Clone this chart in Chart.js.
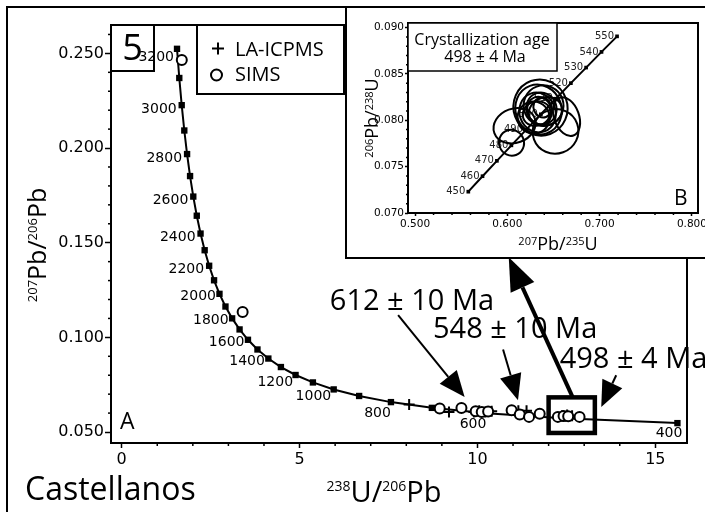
<!DOCTYPE html>
<html>
<head>
<meta charset="utf-8">
<script src="https://cdn.jsdelivr.net/npm/chart.js@4.4.0/dist/chart.umd.min.js"></script>
<style>
  body { margin: 0; background: #fff; }
  #wrap { position: relative; width: 705px; height: 512px; overflow: hidden; }
  #main { position: absolute; left: 0; top: 0; }
  #inset { position: absolute; left: 345px; top: 6px; width: 380px; height: 249px; border: 2px solid #000; background: #fff; }
  #insetChart { position: absolute; left: 0; top: 0; }
</style>
</head>
<body>
<div id="wrap">
  <canvas id="main" width="705" height="512"></canvas>
  <div id="inset"><canvas id="insetChart" width="358" height="249"></canvas></div>
</div>
<script>
// Tera-Wasserburg concordia, ages in Ma
const concAges = [3200, 3100, 3000, 2900, 2800, 2700, 2600, 2500, 2400, 2300, 2200, 2100, 2000, 1900,
  1800, 1700, 1600, 1500, 1400, 1300, 1200, 1100, 1000, 900, 800, 700, 600, 500, 400];
const concX = [1.5557, 1.6194, 1.6874, 1.7603, 1.8384, 1.9224, 2.0129, 2.1108, 2.2170, 2.3325, 2.4586,
  2.5968, 2.7490, 2.9174, 3.1046, 3.3140, 3.5497, 3.8170, 4.1227, 4.4756, 4.8875, 5.3746, 5.9593,
  6.6743, 7.5684, 8.7182, 10.2518, 12.3993, 15.6210];
const concY = [0.25242, 0.23701, 0.22266, 0.20928, 0.19682, 0.18520, 0.17437, 0.16426, 0.15483, 0.14603,
  0.13782, 0.13015, 0.12299, 0.11629, 0.11004, 0.10419, 0.09872, 0.09360, 0.08881, 0.08432, 0.08012,
  0.07619, 0.07250, 0.06904, 0.06580, 0.06276, 0.05990, 0.05722, 0.05470];

// zircon analyses
const laX = [8.08, 9.20, 9.90, 10.05, 10.22, 10.40, 11.15, 11.38, 12.38, 12.52, 12.66];
const laY = [0.0645, 0.0606, 0.0606, 0.0612, 0.0606, 0.0610, 0.0612, 0.0612, 0.0586, 0.0590, 0.0586];
const simsX = [1.69, 3.40, 8.94, 9.55, 9.95, 10.12, 10.30, 10.96, 11.19, 11.45, 11.75, 12.26, 12.42, 12.55, 12.87];
const simsY = [0.2465, 0.1134, 0.0624, 0.0627, 0.0610, 0.0606, 0.0608, 0.0615, 0.0592, 0.0580, 0.0596,
  0.0580, 0.0585, 0.0583, 0.0580];

const xMajor = [0, 5, 10, 15];
const yMajor = [0.05, 0.10, 0.15, 0.20, 0.25];

// Wetherill concordia for the inset
const insetAges = [450, 460, 470, 480, 490, 500, 510, 520, 530, 540, 550];
const insetX = [0.55766, 0.57307, 0.58864, 0.60436, 0.62024, 0.63628, 0.65247, 0.66883, 0.68535, 0.70203, 0.71887];
const insetY = [0.07230, 0.07397, 0.07563, 0.07730, 0.07897, 0.08065, 0.08233, 0.08401, 0.08569, 0.08738, 0.08906];

// 2-sigma error ellipses: centre and semi-axes
const ellX = [0.6078, 0.6045, 0.6522, 0.6641, 0.6359, 0.6338, 0.6392, 0.6327, 0.6370, 0.6348, 0.6381, 0.6316, 0.6413, 0.6284];
const ellY = [0.07942, 0.07758, 0.07880, 0.08040, 0.08138, 0.08116, 0.08160, 0.08084, 0.08127, 0.08105, 0.08138, 0.08073, 0.08095, 0.08029];
const ellRx = [0.0233, 0.0135, 0.0249, 0.0135, 0.0292, 0.0249, 0.0216, 0.0195, 0.0162, 0.0130, 0.0097, 0.0152, 0.0184, 0.0173];
const ellRy = [0.00185, 0.00141, 0.00239, 0.00217, 0.00304, 0.00272, 0.00217, 0.00217, 0.00174, 0.00152, 0.00109, 0.00130, 0.00152, 0.00174];

const insetXMajor = [0.5, 0.6, 0.7, 0.8];
const insetYMajor = [0.070, 0.075, 0.080, 0.085, 0.090];

// age annotations with their arrows (data coordinates)
const notes = [
  {text: '612 \u00b1 10 Ma', at: [5.85, 0.1147], from: [7.77, 0.1117], to: [9.64, 0.0685]},
  {text: '548 \u00b1 10 Ma', at: [8.75, 0.0999], from: [10.72, 0.0936], to: [11.14, 0.0668]},
  {text: '498 \u00b1 4 Ma', at: [12.31, 0.0840], from: [13.90, 0.0800], to: [13.48, 0.0632]}
];
const zoomBox = {x: [12.0, 13.3], y: [0.0495, 0.0683], arrowTo: [10.88, 0.1423]};

const pts = (xs, ys) => xs.map((x, i) => ({x, y: ys[i]}));
const isMajor = (v, list) => list.some(m => Math.abs(m - v) < 1e-6);
const SANS = '"Open Sans", "DejaVu Sans", sans-serif';

function line(ctx, x1, y1, x2, y2) {
  ctx.beginPath(); ctx.moveTo(x1, y1); ctx.lineTo(x2, y2); ctx.stroke();
}

function arrow(ctx, x1, y1, x2, y2, lw, hl, hw) {
  const a = Math.atan2(y2 - y1, x2 - x1);
  const bx = x2 - hl * Math.cos(a), by = y2 - hl * Math.sin(a);
  ctx.lineWidth = lw;
  line(ctx, x1, y1, bx, by);
  ctx.beginPath();
  ctx.moveTo(x2, y2);
  ctx.lineTo(bx + hw / 2 * Math.sin(a), by - hw / 2 * Math.cos(a));
  ctx.lineTo(bx - hw / 2 * Math.sin(a), by + hw / 2 * Math.cos(a));
  ctx.closePath();
  ctx.fill();
}

// text with superscript isotope masses, parts = [[text, isSup], ...]
function supText(ctx, parts, x, y, big, small) {
  const fb = big + 'px ' + SANS, fs = small + 'px ' + SANS;
  let w = 0;
  parts.forEach(([t, s]) => { ctx.font = s ? fs : fb; w += ctx.measureText(t).width; });
  let cx = x - w / 2;
  const raise = 0.714 * (big - small);
  ctx.textAlign = 'left';
  ctx.textBaseline = 'alphabetic';
  parts.forEach(([t, s]) => {
    ctx.font = s ? fs : fb;
    ctx.fillText(t, cx, s ? y - raise : y);
    cx += ctx.measureText(t).width;
  });
}

function minorTicks(ctx, chart, xList, yList, len) {
  const {chartArea: a, scales: {x, y}} = chart;
  ctx.lineWidth = 1.5;
  x.ticks.forEach(t => {
    if (isMajor(t.value, xList)) return;
    const px = x.getPixelForValue(t.value);
    line(ctx, px, a.bottom, px, a.bottom + len);
  });
  y.ticks.forEach(t => {
    if (isMajor(t.value, yList)) return;
    const py = y.getPixelForValue(t.value);
    line(ctx, a.left - len, py, a.left, py);
  });
}

function ageShift(age) {
  if (age >= 3200) return [-3, 9];
  if (age >= 2200) return [-5, 4];
  if (age >= 1400) return [-3.5, 2.5];
  if (age >= 1000) return [-2.5, 7];
  if (age > 400) return [0, 11.5];
  return [5, 10];
}

const mainDecor = {
  id: 'mainDecor',
  beforeDatasetsDraw(chart) {
    const {ctx, scales: {x, y}} = chart;
    ctx.save();
    ctx.font = '14px "DejaVu Sans"';
    ctx.fillStyle = '#000';
    ctx.textAlign = 'right';
    ctx.textBaseline = 'middle';
    concAges.forEach((age, i) => {
      if (age % 200) return;
      const [dx, dy] = ageShift(age);
      ctx.fillText(String(age), x.getPixelForValue(concX[i]) + dx, y.getPixelForValue(concY[i]) + dy);
    });
    ctx.restore();
  },
  afterDraw(chart) {
    const {ctx, chartArea: a, scales: {x, y}} = chart;
    ctx.save();
    ctx.strokeStyle = '#000';
    ctx.fillStyle = '#000';

    ctx.lineWidth = 2;
    ctx.strokeRect(a.left, a.top, a.right - a.left, a.bottom - a.top);
    minorTicks(ctx, chart, xMajor, yMajor, 3);
    ctx.lineWidth = 2;
    ctx.strokeRect(7, 7, 900, 900);

    // panel number and legend
    ctx.strokeRect(a.left, a.top, 43, 46);
    ctx.font = '36px ' + SANS;
    ctx.textAlign = 'center';
    ctx.textBaseline = 'alphabetic';
    ctx.fillText('5', a.left + 21.5, a.top + 35);

    ctx.strokeRect(a.left + 86, a.top, 147, 69);
    ctx.lineWidth = 2;
    line(ctx, a.left + 101, a.top + 23.5, a.left + 113, a.top + 23.5);
    line(ctx, a.left + 107, a.top + 17.5, a.left + 107, a.top + 29.5);
    ctx.beginPath();
    ctx.arc(a.left + 105.5, a.top + 50, 5.5, 0, Math.PI * 2);
    ctx.stroke();
    ctx.font = '20px ' + SANS;
    ctx.textAlign = 'left';
    ctx.fillText(chart.data.datasets[1].label, a.left + 124, a.top + 31);
    ctx.fillText(chart.data.datasets[2].label, a.left + 124, a.top + 56);

    ctx.font = '23px ' + SANS;
    ctx.fillText('A', a.left + 9, a.bottom - 14);

    // box around the youngest population
    ctx.lineWidth = 4.5;
    const bx1 = x.getPixelForValue(zoomBox.x[0]), bx2 = x.getPixelForValue(zoomBox.x[1]);
    const by1 = y.getPixelForValue(zoomBox.y[1]), by2 = y.getPixelForValue(zoomBox.y[0]);
    ctx.strokeRect(bx1, by1, bx2 - bx1, by2 - by1);

    ctx.font = '29px ' + SANS;
    ctx.textAlign = 'left';
    notes.forEach(n => {
      ctx.fillText(n.text, x.getPixelForValue(n.at[0]), y.getPixelForValue(n.at[1]));
    });
    notes.forEach(n => {
      arrow(ctx, x.getPixelForValue(n.from[0]), y.getPixelForValue(n.from[1]),
        x.getPixelForValue(n.to[0]), y.getPixelForValue(n.to[1]), 2, 26, 22);
    });
    arrow(ctx, (bx1 + bx2) / 2 + 1, by1, x.getPixelForValue(zoomBox.arrowTo[0]),
      y.getPixelForValue(zoomBox.arrowTo[1]), 4, 33, 26);

    // axis titles
    supText(ctx, [['238', 1], ['U/', 0], ['206', 1], ['Pb', 0]], 384, 502, 29, 14);
    ctx.save();
    ctx.translate(46, 245);
    ctx.rotate(-Math.PI / 2);
    supText(ctx, [['207', 1], ['Pb/', 0], ['206', 1], ['Pb', 0]], 0, 0, 25, 13);
    ctx.restore();

    ctx.font = '32px ' + SANS;
    ctx.textAlign = 'left';
    ctx.fillText('Castellanos', 25, 500);
    ctx.restore();
  }
};

const tickFont = {family: 'DejaVu Sans', size: 16};

new Chart(document.getElementById('main'), {
  type: 'scatter',
  data: {
    datasets: [
      {label: 'Concordia', data: pts(concX, concY), showLine: true, borderColor: '#000', borderWidth: 2,
        pointStyle: 'rect', pointRadius: 4.5, pointBackgroundColor: '#000', pointBorderWidth: 0, order: 3},
      {label: 'LA-ICPMS', data: pts(laX, laY), pointStyle: 'cross', pointRadius: 5.5,
        pointBorderColor: '#000', pointBorderWidth: 2, order: 2},
      {label: 'SIMS', data: pts(simsX, simsY), pointStyle: 'circle', pointRadius: 5,
        pointBackgroundColor: '#fff', pointBorderColor: '#000', pointBorderWidth: 2, order: 1}
    ]
  },
  options: {
    responsive: false,
    animation: false,
    layout: {padding: {top: 25, right: 18, left: 0, bottom: 0}},
    plugins: {legend: {display: false}, tooltip: {enabled: false}},
    scales: {
      x: {
        type: 'linear', min: -0.3, max: 15.89,
        afterFit: s => { s.height = 69; s.paddingLeft = 0; s.paddingRight = 0; },
        ticks: {stepSize: 1, autoSkip: false, maxRotation: 0, includeBounds: false, font: tickFont, color: '#000',
          padding: 2, callback: v => isMajor(v, xMajor) ? String(v) : ''},
        grid: {drawOnChartArea: false, tickLength: 5, tickWidth: 1.5,
          tickColor: c => isMajor(c.tick.value, xMajor) ? '#000' : 'rgba(0,0,0,0)'},
        border: {display: false}
      },
      y: {
        type: 'linear', min: 0.0442, max: 0.265,
        afterFit: s => { s.width = 111; s.paddingTop = 0; s.paddingBottom = 0; },
        ticks: {stepSize: 0.01, autoSkip: false, includeBounds: false, font: tickFont, color: '#000',
          padding: 1, callback: v => isMajor(v, yMajor) ? v.toFixed(3) : ''},
        grid: {drawOnChartArea: false, tickLength: 6, tickWidth: 1.5,
          tickColor: c => isMajor(c.tick.value, yMajor) ? '#000' : 'rgba(0,0,0,0)'},
        border: {display: false}
      }
    }
  },
  plugins: [mainDecor]
});

const insetDecor = {
  id: 'insetDecor',
  beforeDatasetsDraw(chart) {
    const {ctx, scales: {x, y}} = chart;
    ctx.save();
    ctx.font = '10px "DejaVu Sans"';
    ctx.fillStyle = '#222';
    ctx.textAlign = 'right';
    ctx.textBaseline = 'middle';
    insetAges.forEach((age, i) => {
      ctx.fillText(String(age), x.getPixelForValue(insetX[i]) - 3, y.getPixelForValue(insetY[i]));
    });
    ctx.restore();
  },
  afterDatasetsDraw(chart) {
    const {ctx, chartArea: a, scales: {x, y}} = chart;
    ctx.save();
    ctx.beginPath();
    ctx.rect(a.left, a.top, a.right - a.left, a.bottom - a.top);
    ctx.clip();
    ctx.strokeStyle = '#000';
    ctx.lineWidth = 2;
    ellX.forEach((cx, i) => {
      const px = x.getPixelForValue(cx), py = y.getPixelForValue(ellY[i]);
      const rx = Math.abs(x.getPixelForValue(cx + ellRx[i]) - px);
      const ry = Math.abs(y.getPixelForValue(ellY[i] + ellRy[i]) - py);
      ctx.beginPath();
      ctx.ellipse(px, py, rx, ry, -0.35, 0, Math.PI * 2);
      ctx.stroke();
    });
    ctx.restore();
  },
  afterDraw(chart) {
    const {ctx, chartArea: a} = chart;
    ctx.save();
    ctx.strokeStyle = '#000';
    ctx.fillStyle = '#000';
    ctx.lineWidth = 2;
    ctx.strokeRect(a.left, a.top, a.right - a.left, a.bottom - a.top);
    minorTicks(ctx, chart, insetXMajor, insetYMajor, 2);

    ctx.lineWidth = 1.5;
    ctx.fillStyle = '#fff';
    ctx.fillRect(a.left, a.top, 149, 48);
    ctx.strokeRect(a.left, a.top, 149, 48);
    ctx.fillStyle = '#000';
    ctx.font = '16px ' + SANS;
    ctx.textAlign = 'center';
    ctx.textBaseline = 'alphabetic';
    ctx.fillText('Crystallization age', a.left + 74, a.top + 22);
    ctx.fillText('498 \u00b1 4 Ma', a.left + 77, a.top + 39);

    ctx.font = '21px ' + SANS;
    ctx.textAlign = 'left';
    ctx.fillText('B', a.right - 24, a.bottom - 8);

    supText(ctx, [['207', 1], ['Pb/', 0], ['235', 1], ['U', 0]], 211, 242, 18, 11);
    ctx.translate(31, 110);
    ctx.rotate(-Math.PI / 2);
    supText(ctx, [['206', 1], ['Pb/', 0], ['238', 1], ['U', 0]], 0, 0, 18, 11);
    ctx.restore();
  }
};

const insetFont = {family: 'DejaVu Sans', size: 10.5};

new Chart(document.getElementById('insetChart'), {
  type: 'scatter',
  data: {
    datasets: [
      {label: 'Concordia', data: pts(insetX, insetY), showLine: true, borderColor: '#000', borderWidth: 2,
        pointStyle: 'rect', pointRadius: 2.6, pointBackgroundColor: '#000', pointBorderWidth: 0}
    ]
  },
  options: {
    responsive: false,
    animation: false,
    layout: {padding: {top: 15, right: 7, left: 0, bottom: 0}},
    plugins: {legend: {display: false}, tooltip: {enabled: false}},
    scales: {
      x: {
        type: 'linear', min: 0.4923, max: 0.8066,
        afterFit: s => { s.height = 44; s.paddingLeft = 0; s.paddingRight = 0; },
        ticks: {stepSize: 0.02, autoSkip: false, maxRotation: 0, includeBounds: false, font: insetFont, color: '#000',
          padding: 2, callback: v => isMajor(v, insetXMajor) ? v.toFixed(3) : ''},
        grid: {drawOnChartArea: false, tickLength: 3, tickWidth: 1.5,
          tickColor: c => isMajor(c.tick.value, insetXMajor) ? '#000' : 'rgba(0,0,0,0)'},
        border: {display: false}
      },
      y: {
        type: 'linear', min: 0.070, max: 0.0905,
        afterFit: s => { s.width = 61; s.paddingTop = 0; s.paddingBottom = 0; },
        ticks: {stepSize: 0.001, autoSkip: false, includeBounds: false, font: insetFont, color: '#000',
          padding: 1, callback: v => isMajor(v, insetYMajor) ? v.toFixed(3) : ''},
        grid: {drawOnChartArea: false, tickLength: 3, tickWidth: 1.5,
          tickColor: c => isMajor(c.tick.value, insetYMajor) ? '#000' : 'rgba(0,0,0,0)'},
        border: {display: false}
      }
    }
  },
  plugins: [insetDecor]
});
</script>
</body>
</html>
